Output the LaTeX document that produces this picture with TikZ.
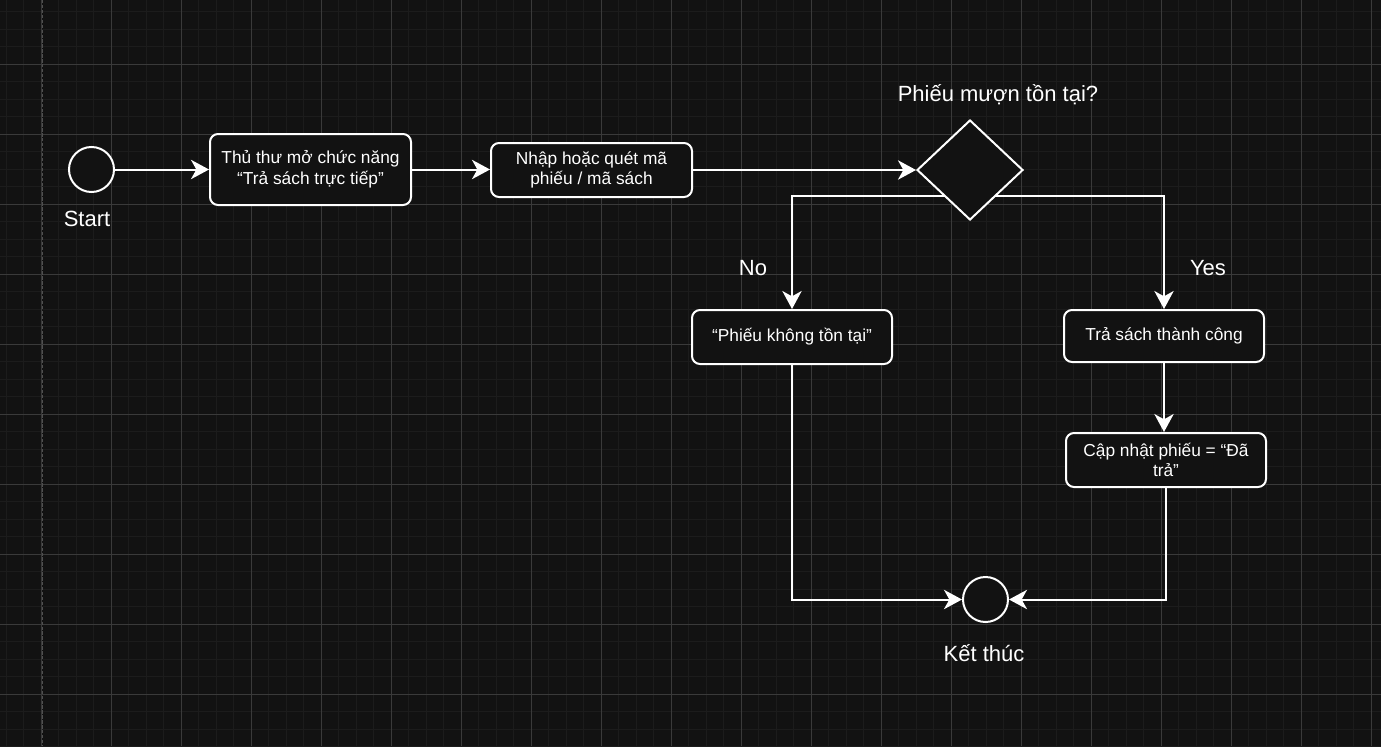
\documentclass[tikz,border=0pt]{standalone}
\usepackage{fontspec}
\setmainfont{Liberation Sans}
\usetikzlibrary{arrows.meta,shapes.geometric,calc}
\definecolor{bg}{HTML}{121212}
\definecolor{gminor}{HTML}{1C1C1C}
\definecolor{gmajor}{HTML}{3A3A3A}
\definecolor{pageline}{HTML}{505050}
\begin{document}
\begin{tikzpicture}[x=0.75pt,y=-0.75pt,
  box/.style={draw=white, line width=1.5pt, fill=bg, rounded corners=6pt,
    align=center, text=white, inner sep=0pt,
    font=\fontsize{13pt}{15.5pt}\selectfont},
  circ/.style={circle, draw=white, line width=1.5pt, fill=bg, inner sep=0pt,
    minimum size=33.75pt},
  dia/.style={diamond, draw=white, line width=1.5pt, fill=bg, inner sep=0pt,
    minimum width=79.5pt, minimum height=75pt},
  lbl/.style={text=white, font=\fontsize{16.5pt}{19.5pt}\selectfont, inner sep=0pt},
  edge/.style={draw=white, line width=1.5pt,
    -{Stealth[length=13.5pt, width=14.5pt, inset=4pt]}},
  edgeplain/.style={draw=white, line width=1.5pt}]

% background and grid
\fill[bg] (0,0) rectangle (1381,746);
\useasboundingbox (0,0) rectangle (1381,746);
\begin{scope}
  \clip (0,0) rectangle (1381,746);
  \foreach \i in {0,...,79} {
    \draw[gminor, line width=0.75pt] ({6+17.5*\i},0) -- ({6+17.5*\i},746);
  }
  \foreach \j in {0,...,43} {
    \draw[gminor, line width=0.75pt] (0,{11.5+17.5*\j}) -- (1381,{11.5+17.5*\j});
  }
  \foreach \i in {0,...,19} {
    \draw[gmajor, line width=0.75pt] ({41+70*\i},0) -- ({41+70*\i},746);
  }
  \foreach \j in {0,...,10} {
    \draw[gmajor, line width=0.75pt] (0,{64+70*\j}) -- (1381,{64+70*\j});
  }
  \draw[pageline, line width=0.75pt, dash pattern=on 2.5pt off 1.2pt] (42,0) -- (42,746);
\end{scope}

% nodes
\node[circ] (start) at (91.5,169.5) {};
\node[lbl] (startlbl) at (87,219) {Start};
\node[box, minimum width=150.75pt, minimum height=53.25pt] (b1) at (310.5,169.5)
  {Thủ thư mở chức năng\\“Trả sách trực tiếp”};
\node[box, minimum width=150.75pt, minimum height=40.5pt] (b2) at (591.5,170)
  {Nhập hoặc quét mã\\phiếu / mã sách};
\node[dia] (d) at (970,170) {};
\node[lbl] (dlbl) at (998,95) {Phiếu mượn tồn tại?};
\node[lbl] (nolbl) at (753,268) {No};
\node[lbl] (yeslbl) at (1208,268) {Yes};
\node[box, minimum width=150pt, minimum height=40.5pt] (no) at (792,337)
  {“Phiếu không tồn tại”};
\node[box, minimum width=150pt, minimum height=39pt] (yes) at (1164,336)
  {Trả sách thành công};
\node[box, minimum width=150pt, minimum height=40.5pt] (upd) at (1166,460)
  {Cập nhật phiếu = “Đã\\trả”};
\node[circ] (end) at (985.5,599.5) {};
\node[lbl] (endlbl) at (984,653) {Kết thúc};

% connectors
\draw[edge] (start) -- (b1.west);
\draw[edge] (b1.east) -- (b1.east -| b2.west);
\draw[edge] (b2.east) -- (d.west);
\coordinate (dl) at ($(d.center)+(-25.4,26)$);
\coordinate (dr) at ($(d.center)+(25.4,26)$);
\draw[edge] (dl) -| (no.north);
\draw[edge] (dr) -| (yes.north);
\draw[edge] (yes.south) -- (yes.south |- upd.north);
\draw[edge] (no.south) |- (end.west);
\draw[edge] (upd.south) |- (end.east);
\end{tikzpicture}
\end{document}
